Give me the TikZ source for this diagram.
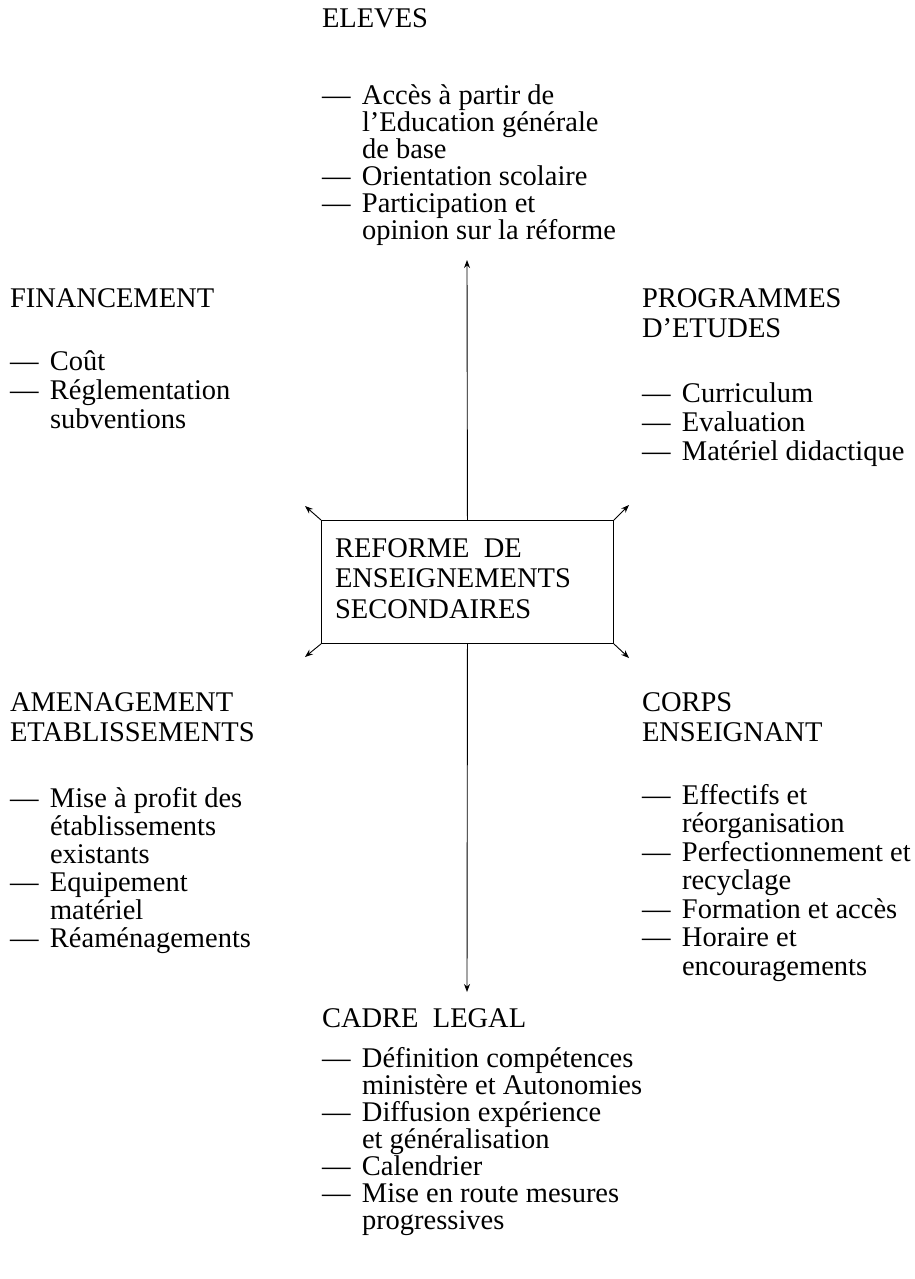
\documentclass[tikz,border=0pt]{standalone}
\usepackage{fontspec}
\setmainfont{Liberation Serif}
\usetikzlibrary{arrows.meta}
\newcommand\Itm[1]{\hbox{\makebox[40pt][l]{—}#1}}
\newcommand\Cnt[1]{\hbox{\hspace*{40pt}#1}}
\newcommand\Lne[1]{\hbox{#1}}
\newcommand\Stack[2]{\vtop{\baselineskip=#1pt\lineskiplimit=-20pt #2}}
\begin{document}
\begin{tikzpicture}[x=1pt,y=-1pt,
  txt/.style={inner sep=0pt, outer sep=0pt, anchor=base west, font=\fontsize{28.5}{28.5}\selectfont},
  frame/.style={draw, line width=0.9pt, inner sep=0pt, anchor=north west},
  link/.style={line width=0.9pt, -{Stealth[length=8pt,width=6pt]}}]
\useasboundingbox (0,0) rectangle (915,1279);
% headings
\node[txt] (elevesH) at (322,28) {ELEVES};
\node[txt] (finH) at (10,307) {FINANCEMENT};
\node[txt] (progH) at (642,307) {\Stack{30}{\Lne{PROGRAMMES}\Lne{D’ETUDES}}};
\node[txt] (amenH) at (10,711) {\Stack{30}{\Lne{AMENAGEMENT}\Lne{ETABLISSEMENTS}}};
\node[txt] (corpsH) at (642,711) {\Stack{30}{\Lne{CORPS}\Lne{ENSEIGNANT}}};
\node[txt] (cadreH) at (322,1027) {CADRE\hspace{0.5em}LEGAL};
% lists
\node[txt] (elevesL) at (322,105) {\Stack{27}{%
  \Itm{Accès à partir de}\Cnt{l’Education générale}\Cnt{de base}%
  \Itm{Orientation scolaire}\Itm{Participation et}\Cnt{opinion sur la réforme}}};
\node[txt] (finL) at (10,370) {\Stack{29}{%
  \Itm{Coût}\Itm{Réglementation}\Cnt{subventions}}};
\node[txt] (progL) at (642,402) {\Stack{29}{%
  \Itm{Curriculum}\Itm{Evaluation}\Itm{Matériel didactique}}};
\node[txt] (amenL) at (10,807) {\Stack{28}{%
  \Itm{Mise à profit des}\Cnt{établissements}\Cnt{existants}%
  \Itm{Equipement}\Cnt{matériel}\Itm{Réaménagements}}};
\node[txt] (corpsL) at (642,804) {\Stack{28.5}{%
  \Itm{Effectifs et}\Cnt{réorganisation}\Itm{Perfectionnement et}\Cnt{recyclage}%
  \Itm{Formation et accès}\Itm{Horaire et}\Cnt{encouragements}}};
\node[txt] (cadreL) at (322,1067) {\Stack{27}{%
  \Itm{Définition compétences}\Cnt{ministère et Autonomies}\Itm{Diffusion expérience}%
  \Cnt{et généralisation}\Itm{Calendrier}\Itm{Mise en route mesures}\Cnt{progressives}}};
% central box
\node[frame, minimum width=292pt, minimum height=123pt] (box) at (321,520) {};
\node[txt] (boxT) at (335,557) {\Stack{30.5}{\Lne{REFORME\hspace{0.5em}DE}\Lne{ENSEIGNEMENTS}\Lne{SECONDAIRES}}};
% arrows
\coordinate (upTip) at (467,260);
\coordinate (dnTip) at (467,992);
\coordinate (tlTip) at (305,506);
\coordinate (trTip) at (629,505);
\coordinate (blTip) at (305,657);
\coordinate (brTip) at (629,658);
\draw[link] (box.north) -- (upTip);
\draw[link] (box.south) -- (dnTip);
\draw[link] (box.north west) -- (tlTip);
\draw[link] (box.north east) -- (trTip);
\draw[link] (box.south west) -- (blTip);
\draw[link] (box.south east) -- (brTip);
\end{tikzpicture}
\end{document}
